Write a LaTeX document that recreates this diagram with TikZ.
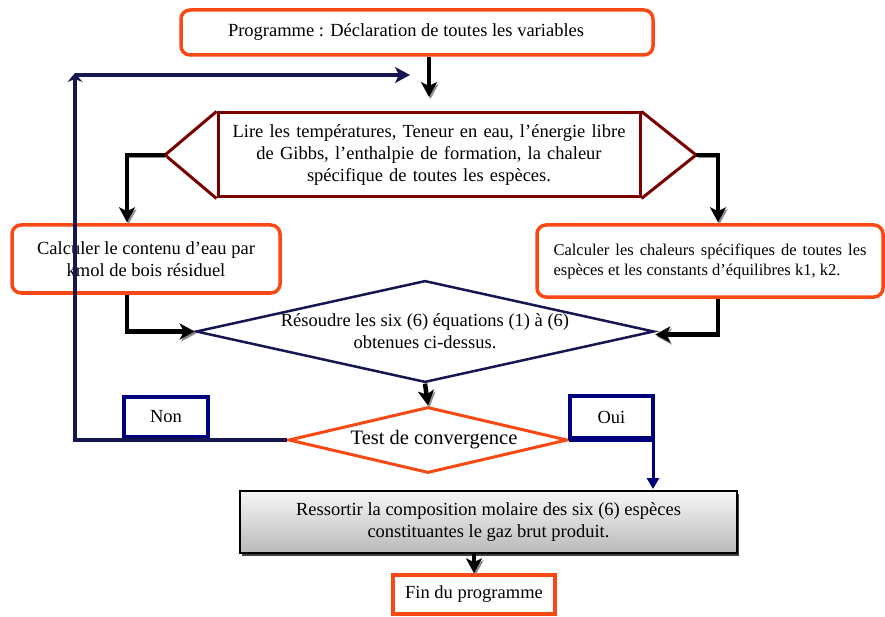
\documentclass[tikz,border=0pt]{standalone}
\usepackage{fontspec}
\setmainfont{Liberation Serif}
\usetikzlibrary{arrows.meta,shapes.geometric,calc,shadows}
\definecolor{orgR}{RGB}{248,72,20}
\definecolor{brn}{RGB}{122,0,0}
\definecolor{nvy}{RGB}{22,22,80}
\definecolor{nvb}{RGB}{0,0,125}
\tikzset{
  obox/.style={draw=orgR, line width=3.5pt, rounded corners=9pt, fill=white, align=center, inner sep=2pt},
  blk/.style={draw=black, line width=4.5pt, -{Stealth[length=15pt,width=16pt,inset=4pt]},
    preaction={draw=black!45, transform canvas={xshift=1.5pt,yshift=-2pt}}},
  nav/.style={draw=nvy, line width=4pt},
  navtip/.style={-{Stealth[length=15pt,width=16pt,inset=4pt]}},
  nvbline/.style={draw=nvb, line width=3pt, -{Triangle[length=11pt,width=12pt]}},
  bigfont/.style={font=\fontsize{18.5}{22}\selectfont},
  smallfont/.style={font=\fontsize{16.5}{20}\selectfont},
  lbox/.style={draw=nvb, line width=3.5pt, fill=white, inner sep=0pt}
}
\begin{document}
\begin{tikzpicture}[x=1pt,y=-1pt]
\useasboundingbox (0,0) rectangle (885,617);

% nodes
\node[obox, bigfont, minimum width=472pt, minimum height=45pt] (prog) at (417,32.5)
  {Programme : D\'eclaration de toutes les variables\hspace*{22pt}};

\node[draw=brn, line width=3pt, fill=white, bigfont, minimum width=422pt, minimum height=84pt,
      text width=405pt, align=center, inner sep=0pt] (lire) at (429,155)
  {Lire les temp\'eratures, Teneur en eau, l'\'energie libre\\de Gibbs, l'enthalpie de formation, la chaleur\\sp\'ecifique de toutes les esp\`eces.};
\coordinate (lapex) at (165,155);
\coordinate (rapex) at (696,155);
\draw[brn, line width=3pt, line join=miter] (lire.north west) -- (lapex) -- (lire.south west);
\draw[brn, line width=3pt, line join=miter] (lire.north east) -- (rapex) -- (lire.south east);

\node[obox, bigfont, minimum width=268pt, minimum height=68pt] (calc1) at (146,259)
  {Calculer le contenu d'eau par\\kmol de bois r\'esiduel};

\node[obox, smallfont, minimum width=346pt, minimum height=72pt, text width=313pt, align=justify] (calc2) at (710,261)
  {Calculer les chaleurs sp\'ecifiques de toutes les esp\`eces et les constants d'\'equilibres k1, k2.};

\node[diamond, draw=nvy, line width=2.5pt, fill=white, bigfont, aspect=4.5, inner sep=0pt,
      minimum width=440pt, minimum height=97pt, align=center] (res) at (425,331.5)
  {\raisebox{-3pt}{\parbox{300pt}{\centering R\'esoudre les six (6) \'equations (1) \`a (6)\\obtenues ci-dessus.}}};

\node[diamond, draw=orgR, line width=3pt, fill=white, font=\fontsize{20.5}{24}\selectfont, aspect=4.2,
      inner sep=0pt, minimum width=279pt, minimum height=66pt] (test) at (428,440)
  {\hspace*{12pt}Test de convergence};

\node[lbox, bigfont, minimum width=84pt, minimum height=40pt] (non) at (166,417) {Non};
\node[lbox, bigfont, minimum width=83pt, minimum height=42pt] (oui) at (611.5,417) {Oui};

\node[draw=black, line width=2pt, top color=gray!6, bottom color=gray!55, bigfont,
      minimum width=497pt, minimum height=62pt, align=center,
      drop shadow={shadow xshift=2pt, shadow yshift=-3pt, fill=black!75, opacity=1}] (out) at (488.5,522)
  {Ressortir la composition molaire des six (6) esp\`eces\\constituantes le gaz brut produit.};

\node[draw=orgR, line width=3.5pt, fill=white, bigfont, minimum width=162pt, minimum height=39pt] (fin) at (474,594.5)
  {Fin du programme};

% connectors
\coordinate (entry) at (429,97);
\draw[blk] (prog.south -| lire.north) -- (entry);

\coordinate (loopL) at (75,75);
\coordinate (loopE) at (410,75);
\draw[nav, -{Stealth[length=9pt,width=15pt,inset=3pt]}] (test.west) -| ($(loopL)+(0,-2)$);
\draw[nav, navtip] (loopL) -- (loopE);

\draw[blk] (lapex) -| ($(calc1.north)+(-19,-1)$);
\draw[blk] (rapex) -| ($(calc2.north)+(8,-1)$);
\draw[blk] ($(calc1.south)+(-19,0)$) |- (res.west);
\draw[blk] ($(calc2.south)+(8,0)$) |- ($(res.east)+(0,3)$);
\draw[blk] (res.south) -- (test.north);

\draw[nvbline] (test.east) -| ($(out.north)+(164.5,-1)$);
\draw[blk] (out.south -| fin.north) -- (fin.north);
\end{tikzpicture}
\end{document}
